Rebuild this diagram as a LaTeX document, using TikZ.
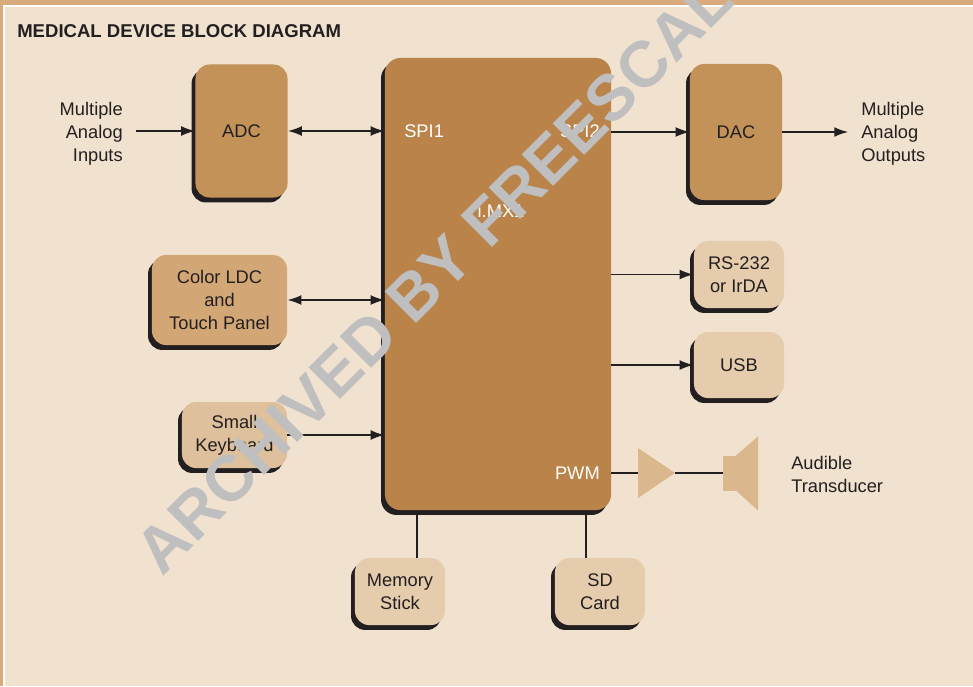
\documentclass[tikz,border=0pt]{standalone}
\usepackage{fontspec}
\setmainfont{Liberation Sans}
\usetikzlibrary{arrows.meta}
\usetikzlibrary{shadows}
\usetikzlibrary{shapes.geometric}
\tikzset{>={Latex[length=10pt,width=7pt]}}

\definecolor{paper}{HTML}{F1E2CF}
\definecolor{frame}{HTML}{D9AA7C}
\definecolor{ink}{HTML}{231F20}
\definecolor{coreclr}{HTML}{B9834A}
\definecolor{convclr}{HTML}{C39258}
\definecolor{lcdclr}{HTML}{D3A775}
\definecolor{keyclr}{HTML}{DFC09C}
\definecolor{periclr}{HTML}{E5CCAC}
\definecolor{hornclr}{HTML}{DBB78E}
\definecolor{stampclr}{HTML}{BFBFBF}

\tikzset{
  block/.style={rectangle, rounded corners=10pt, inner sep=0pt, align=center,
    text=ink, font=\fontsize{13}{16.4}\selectfont,
    drop shadow={shadow xshift=-2.8pt, shadow yshift=-3.5pt, fill=ink, opacity=1}},
  port/.style={inner sep=0pt, text=white, font=\fontsize{13}{16.4}\selectfont},
  caption/.style={inner sep=0pt, text=ink, font=\fontsize{13}{16.4}\selectfont},
  link/.style={draw=ink, line width=1.3pt},
}

\begin{document}
\begin{tikzpicture}[x=0.025cm, y=-0.025cm]
      \fill [frame] (0,0) rectangle (973,686);
      \fill [white] (3,5) rectangle (973,686);
      \fill [paper] (5,7) rectangle (973,686);
      \useasboundingbox (0,0) rectangle (973,686);

      \node [caption, anchor=base west, font=\bfseries\fontsize{13.2}{16}\selectfont]
      (title) at (17,37) {MEDICAL DEVICE BLOCK DIAGRAM};

      \node [block, fill=coreclr, minimum width=5.65cm, minimum height=11.3cm,
      rounded corners=11pt] (mcu) at (498,284) {};

      \node [block, fill=convclr, minimum width=2.3cm, minimum height=3.325cm]
      (adc) at (241.5,131) {ADC};

      \node [block, fill=convclr, minimum width=2.3cm, minimum height=3.4cm]
      (dac) at (736,132) {DAC};

      \node [block, fill=lcdclr, minimum width=3.375cm, minimum height=2.25cm]
      (lcd) at (219.5,300) {Color LDC\\and\\Touch Panel};

      \node [block, fill=keyclr, minimum width=2.625cm, minimum height=1.65cm]
      (kbd) at (234.5,435) {Small\\Keyboard};

      \node [block, fill=periclr, minimum width=2.25cm, minimum height=1.675cm]
      (rs) at (739,274.5) {RS-232\\or IrDA};

      \node [block, fill=periclr, minimum width=2.25cm, minimum height=1.65cm]
      (usb) at (739,365) {USB};

      \node [block, fill=periclr, minimum width=2.25cm, minimum height=1.675cm]
      (mem) at (400,591.5) {Memory\\Stick};

      \node [block, fill=periclr, minimum width=2.25cm, minimum height=1.675cm]
      (sd) at (600,591.5) {SD\\Card};

      \node [port, anchor=west] (spi1) at (404,131.5) {SPI1};
      \node [port, anchor=east] (spi2) at (600,131.5) {SPI2};
      \node [port] (imx) at (501,211) {i.MX1};
      \node [port, anchor=east] (pwm) at (600,473) {PWM};

      \node [caption, anchor=east, align=right] (inputs) at (123,133.5)
      {Multiple\\Analog\\Inputs};

      \node [caption, anchor=west, align=left] (outputs) at (861,133.5)
      {Multiple\\Analog\\Outputs};

      \node [caption, anchor=west, align=left] (audible) at (791,474)
      {Audible\\Transducer};

      \node [isosceles triangle, isosceles triangle stretches, fill=hornclr,
      inner sep=0pt, outer sep=0pt, minimum width=1.25cm, minimum height=0.925cm,
      anchor=west] (amp) at (638,473) {};

      \node [rectangle, fill=hornclr, inner sep=0pt, outer sep=0pt,
      minimum width=0.325cm, minimum height=0.875cm] (spk) at (729.5,473) {};

      \fill [hornclr] (spk.north east) -- ++(22,-19) -- ++(0,74)
      -- (spk.south east) -- cycle;

      \draw [link, ->, shorten <=9pt] (inputs.east |- adc.west) -- (adc.west);
      \draw [link, <->] (adc.east) -- (adc.east -| mcu.west);
      \draw [link, ->] (mcu.east |- dac.west) -- (dac.west);
      \draw [link, ->, shorten >=9pt] (dac.east) -- (dac.east -| outputs.west);
      \draw [link, <->] (lcd.east) -- (lcd.east -| mcu.west);
      \draw [link, ->] (kbd.east) -- (kbd.east -| mcu.west);
      \draw [link, ->] (mcu.east |- rs.west) -- (rs.west);
      \draw [link, ->] (mcu.east |- usb.west) -- (usb.west);
      \draw [link] (mcu.east |- amp.west) -- (amp.west);
      \draw [link] (amp.east) -- (spk.west);

      \coordinate (memport) at (417,514);
      \coordinate (sdport) at (586,514);
      \draw [link] (memport) -- (memport |- mem.north);
      \draw [link] (sdport) -- (sdport |- sd.north);

      \node [inner sep=0pt, rotate=45, anchor=base west, text=stampclr,
      font=\bfseries\fontsize{46}{50}\selectfont] (stamp) at (162,578)
      {ARCHIVED BY FREESCALE};
\end{tikzpicture}
\end{document}
